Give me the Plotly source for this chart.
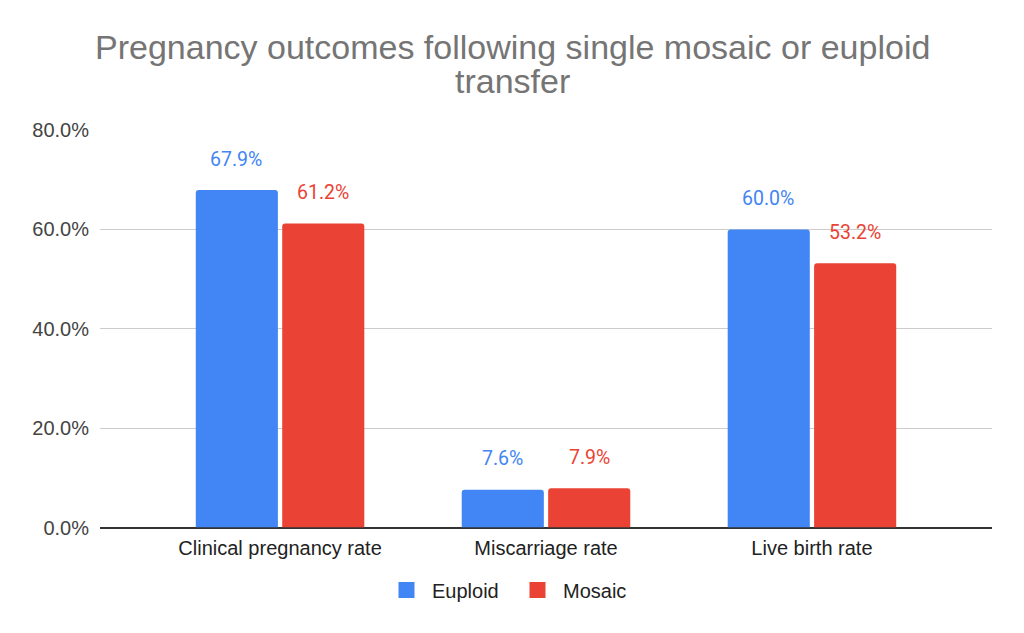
import plotly.graph_objects as go

categories = ["Clinical pregnancy rate", "Miscarriage rate", "Live birth rate"]
euploid = [67.9, 7.6, 60.0]
mosaic = [61.2, 7.9, 53.2]
series_names = ["Euploid", "Mosaic"]
colors = ["#4285F4", "#EA4335"]
y_ticks = [0, 20, 40, 60, 80]
y_tick_labels = ["0.0%", "20.0%", "40.0%", "60.0%", "80.0%"]
title_lines = ["Pregnancy outcomes following single mosaic or euploid", "transfer"]

FONT = "Liberation Sans, Arial"
W, H = 1024, 633
ML, MR, MT, MB = 100, 32, 130, 104
PH = H - MT - MB
PW = W - ML - MR
XC = (W / 2 - ML) / PW  # page centre in plot-paper coords

fig = go.Figure()
for name, vals, col in zip(series_names, [euploid, mosaic], colors):
    fig.add_trace(go.Bar(
        x=categories, y=vals, name=name, showlegend=False,
        marker=dict(color=col, line=dict(width=0), cornerradius=3),
    ))
# legend proxies (square swatches)
for name, col in zip(series_names, colors):
    fig.add_trace(go.Scatter(
        x=[None], y=[None], mode="markers", name=name,
        marker=dict(symbol="square", size=20, color=col),
    ))

ann = []
for vals, col, shift in [(euploid, colors[0], -44), (mosaic, colors[1], 43)]:
    for c, v in zip(categories, vals):
        ann.append(dict(x=c, y=v, xref="x", yref="y", text=f"{v:.1f}%",
                        showarrow=False, xshift=shift, yshift=31,
                        yanchor="middle",
                        font=dict(family="Roboto", size=19.5, color=col)))

for line, ypx in zip(title_lines, [47, 81]):
    ann.append(dict(x=XC, xref="paper", y=(H - MB - ypx) / PH, yref="paper",
                    text=line, showarrow=False, xanchor="center", yanchor="middle",
                    font=dict(family=FONT, size=34, color="#757575")))

fig.update_layout(
    width=W, height=H,
    margin=dict(l=ML, r=MR, t=MT, b=MB),
    paper_bgcolor="white", plot_bgcolor="white",
    barmode="group", bargap=0.35, bargroupgap=0.05,
    xaxis=dict(range=[-0.677, 2.677], showgrid=False, zeroline=False,
               showline=False, ticks="", ticklabelstandoff=6,
               tickfont=dict(family=FONT, size=20, color="#222222")),
    yaxis=dict(range=[0, 80], tickvals=y_ticks, ticktext=y_tick_labels,
               showgrid=True, gridcolor="#CCCCCC", gridwidth=1,
               zeroline=True, zerolinecolor="#333333", zerolinewidth=1.5,
               ticks="", ticklabelstandoff=10,
               tickfont=dict(family=FONT, size=20, color="#444444")),
    legend=dict(orientation="h", x=0.5, xref="container", xanchor="center",
                y=43 / H, yref="container", yanchor="middle",
                font=dict(family=FONT, size=20, color="#222222"),
                itemwidth=41, entrywidth=75, entrywidthmode="pixels",
                traceorder="normal"),
    annotations=ann,
)
fig.write_html("out.html")
